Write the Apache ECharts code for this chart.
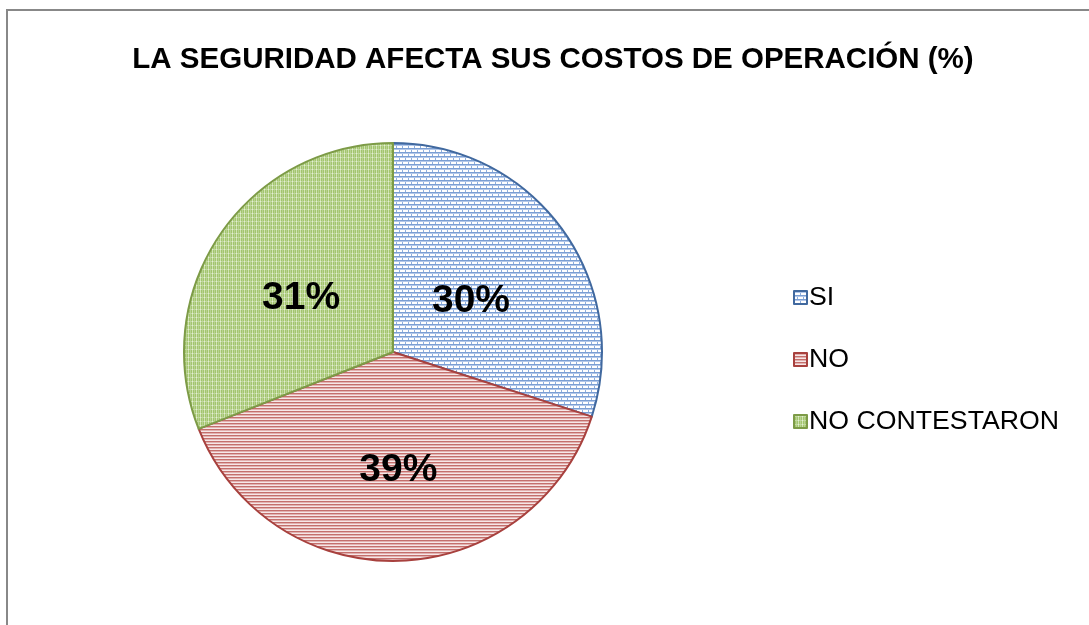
<!DOCTYPE html>
<html>
<head>
<meta charset="utf-8">
<script src="https://cdn.jsdelivr.net/npm/echarts@6/dist/echarts.min.js"></script>
<style>
html,body{margin:0;padding:0;background:#fff;}
#chart{width:1089px;height:625px;}
</style>
</head>
<body>
<div id="chart"></div>
<script>
const titleText = 'LA SEGURIDAD AFECTA SUS COSTOS DE OPERACIÓN (%)';
const categories = ['SI', 'NO', 'NO CONTESTARON'];
const values = [30, 39, 31];

function makeTile(w, h, draw) {
  const c = document.createElement('canvas');
  c.width = w; c.height = h;
  const ctx = c.getContext('2d');
  draw(ctx);
  return c;
}
const siTile = makeTile(6, 8, function (ctx) {
  ctx.fillStyle = '#ffffff'; ctx.fillRect(0, 0, 6, 8);
  ctx.fillStyle = '#7A9ED3'; ctx.fillRect(0, 0, 6, 1); ctx.fillRect(0, 4, 6, 1);
  ctx.fillStyle = '#B3C8EA'; ctx.fillRect(0, 1, 6, 1); ctx.fillRect(0, 5, 6, 1);
  ctx.fillStyle = '#8FAEDC'; ctx.fillRect(0, 2, 1, 2); ctx.fillRect(3, 6, 1, 2);
});
const noTile = makeTile(1, 3, function (ctx) {
  ctx.fillStyle = '#C46F6C'; ctx.fillRect(0, 0, 1, 1);
  ctx.fillStyle = '#E2B2B1'; ctx.fillRect(0, 1, 1, 1);
  ctx.fillStyle = '#F6E7E7'; ctx.fillRect(0, 2, 1, 1);
});
const ncTile = makeTile(4, 4, function (ctx) {
  ctx.fillStyle = '#A3C56E'; ctx.fillRect(0, 0, 4, 4);
  ctx.fillStyle = '#D0E3B2'; ctx.fillRect(0, 0, 1, 4);
  ctx.fillStyle = '#B8D291'; ctx.fillRect(2, 0, 1, 4);
  ctx.fillStyle = '#C2D9A0'; ctx.fillRect(0, 1, 4, 1);
  ctx.fillStyle = '#E4EED4'; ctx.fillRect(0, 1, 1, 1);
});
const fills = [siTile, noTile, ncTile];
const borders = ['#41699F', '#A8413E', '#7D9B47'];
const labelOffsets = [[-9, 12], [2, 11], [-3, 7]];

const chart = echarts.init(document.getElementById('chart'));
chart.setOption({
  animation: false,
  backgroundColor: '#ffffff',
  title: {
    text: titleText,
    left: 548, top: 40, textAlign: 'center',
    textStyle: { fontFamily: 'Liberation Sans, Arial, sans-serif', fontWeight: 'bold', fontSize: 29.5, color: '#000' }
  },
  legend: {
    orient: 'vertical',
    left: 788, top: 279,
    icon: 'rect', itemWidth: 13, itemHeight: 13, itemGap: 35,
    textStyle: { fontFamily: 'Liberation Sans, Arial, sans-serif', fontSize: 26.7, color: '#000', lineHeight: 26, padding: [0,0,0,-3] },
    data: categories
  },
  graphic: [{
    type: 'polyline', silent: true,
    shape: { points: [[7, 640], [7, 10], [1100, 10]] },
    style: { stroke: '#888888', lineWidth: 2, fill: null }
  }],
  series: [{
    type: 'pie',
    center: [393, 352], radius: 209,
    startAngle: 90, clockwise: true,
    label: {
      show: true, position: 'inside',
      formatter: function (p) { return p.value + '%'; },
      fontFamily: 'Liberation Sans, Arial, sans-serif', fontWeight: 'bold', fontSize: 39, color: '#000'
    },
    labelLine: { show: false },
    emphasis: { disabled: true },
    data: categories.map(function (c, i) {
      return {
        name: c, value: values[i],
        label: { offset: labelOffsets[i] },
        itemStyle: { color: { image: fills[i], repeat: 'repeat' }, borderColor: borders[i], borderWidth: 2 }
      };
    })
  }]
});
</script>
</body>
</html>
